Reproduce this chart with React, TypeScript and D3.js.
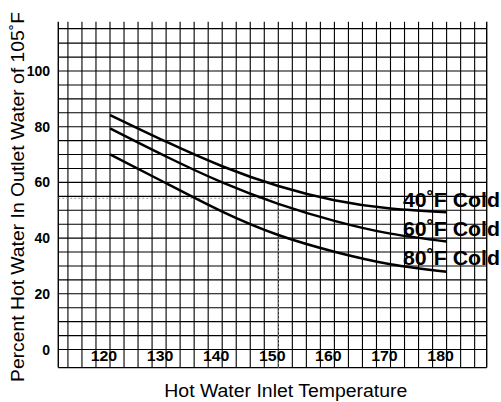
import * as d3 from 'd3'

// Hot water mixing chart: percent hot water needed for 105°F outlet
const temps = [120, 130, 140, 150, 160, 170, 180]
const cold40 = [84.2, 74.6, 65.8, 58.7, 53.6, 50.6, 49.3]
const cold60 = [79.4, 69.3, 60.0, 52.3, 46.2, 41.6, 38.8]
const cold80 = [70.1, 59.7, 49.5, 41.1, 35.1, 30.6, 27.9]
const seriesLabels = ['40', '60', '80']
const xTicks = [120, 130, 140, 150, 160, 170, 180]
const yTicks = [0, 20, 40, 60, 80, 100]
const refX = 150
const refY = 54.3

const W = 501
const H = 402
const font = '"Liberation Sans", Arial, Helvetica, sans-serif'

export default function App() {
  const xMin = 110.78
  const xMax = 187.15
  const yMin = -6.5
  const yMax = 115.2

  const x = d3.scaleLinear().domain([120, 180]).range([110, 446.6])
  const y = d3.scaleLinear().domain([0, 100]).range([349.5, 71])

  const left = x(xMin)
  const right = x(xMax)
  const top = y(yMax)
  const bottom = y(yMin)

  const vLines = d3.range(112.5, 186, 2.5)
  const hLines = d3.range(0, 115, 5)

  const line = d3
    .line<number>()
    .x((_, i) => x(temps[i]))
    .y(d => y(d))
    .curve(d3.curveNatural)

  const series = [cold40, cold60, cold80]
  const labelBaselines = [207, 236, 265]

  return (
    <svg
      width={W}
      height={H}
      style={{ position: 'absolute', left: 0, top: 0, background: '#fff' }}
      fontFamily={font}
    >
      <rect width={W} height={H} fill="#fff" />

      {/* grid */}
      <g stroke="#000" strokeWidth={1.1}>
        {hLines.map(v => (
          <line key={'h' + v} x1={left} x2={right} y1={y(v)} y2={y(v)} />
        ))}
        {vLines.map(v => (
          <line key={'v' + v} x1={x(v)} x2={x(v)} y1={top - 7} y2={bottom} />
        ))}
      </g>

      {/* frame */}
      <g stroke="#000" strokeWidth={1.4}>
        <line x1={left} x2={right} y1={top} y2={top} />
        <line x1={left} x2={right} y1={bottom} y2={bottom} />
        <line x1={left} x2={left} y1={top - 7} y2={bottom} />
        <line x1={right} x2={right} y1={top - 7} y2={bottom} />
      </g>

      {/* reference dashed lines */}
      <g stroke="#999" strokeWidth={1} strokeDasharray="2,2" fill="none">
        <line x1={left} x2={x(refX)} y1={y(refY)} y2={y(refY)} />
        <line x1={x(refX)} x2={x(refX)} y1={y(refY)} y2={bottom} />
      </g>

      {/* curves */}
      {series.map((s, i) => (
        <path key={i} d={line(s) || ''} fill="none" stroke="#000" strokeWidth={2.5} />
      ))}

      {/* series labels */}
      {seriesLabels.map((t, i) => (
        <text
          key={t}
          x={403}
          y={labelBaselines[i]}
          fontSize={19.5}
          fontWeight="bold"
          textLength={97}
          lengthAdjust="spacingAndGlyphs"
        >
          {t}˚F Cold
        </text>
      ))}

      {/* y tick labels */}
      {yTicks.map(v => (
        <text key={v} x={50} y={y(v) + 5} textAnchor="end" fontSize={14} fontWeight="bold">
          {v}
        </text>
      ))}

      {/* x tick labels */}
      {xTicks.map(v => (
        <text
          key={v}
          x={x(v) - 19.3}
          y={360.5}
          fontSize={14}
          fontWeight="bold"
          textLength={26.5}
          lengthAdjust="spacingAndGlyphs"
        >
          {v}
        </text>
      ))}

      {/* axis titles */}
      <text
        x={285.8}
        y={397}
        textAnchor="middle"
        fontSize={17.5}
        textLength={243}
        lengthAdjust="spacingAndGlyphs"
      >
        Hot Water Inlet Temperature
      </text>
      <text
        transform="translate(24,197) rotate(-90)"
        textAnchor="middle"
        fontSize={17.5}
        textLength={370}
        lengthAdjust="spacingAndGlyphs"
      >
        Percent Hot Water In Outlet Water of 105˚F
      </text>
    </svg>
  )
}
